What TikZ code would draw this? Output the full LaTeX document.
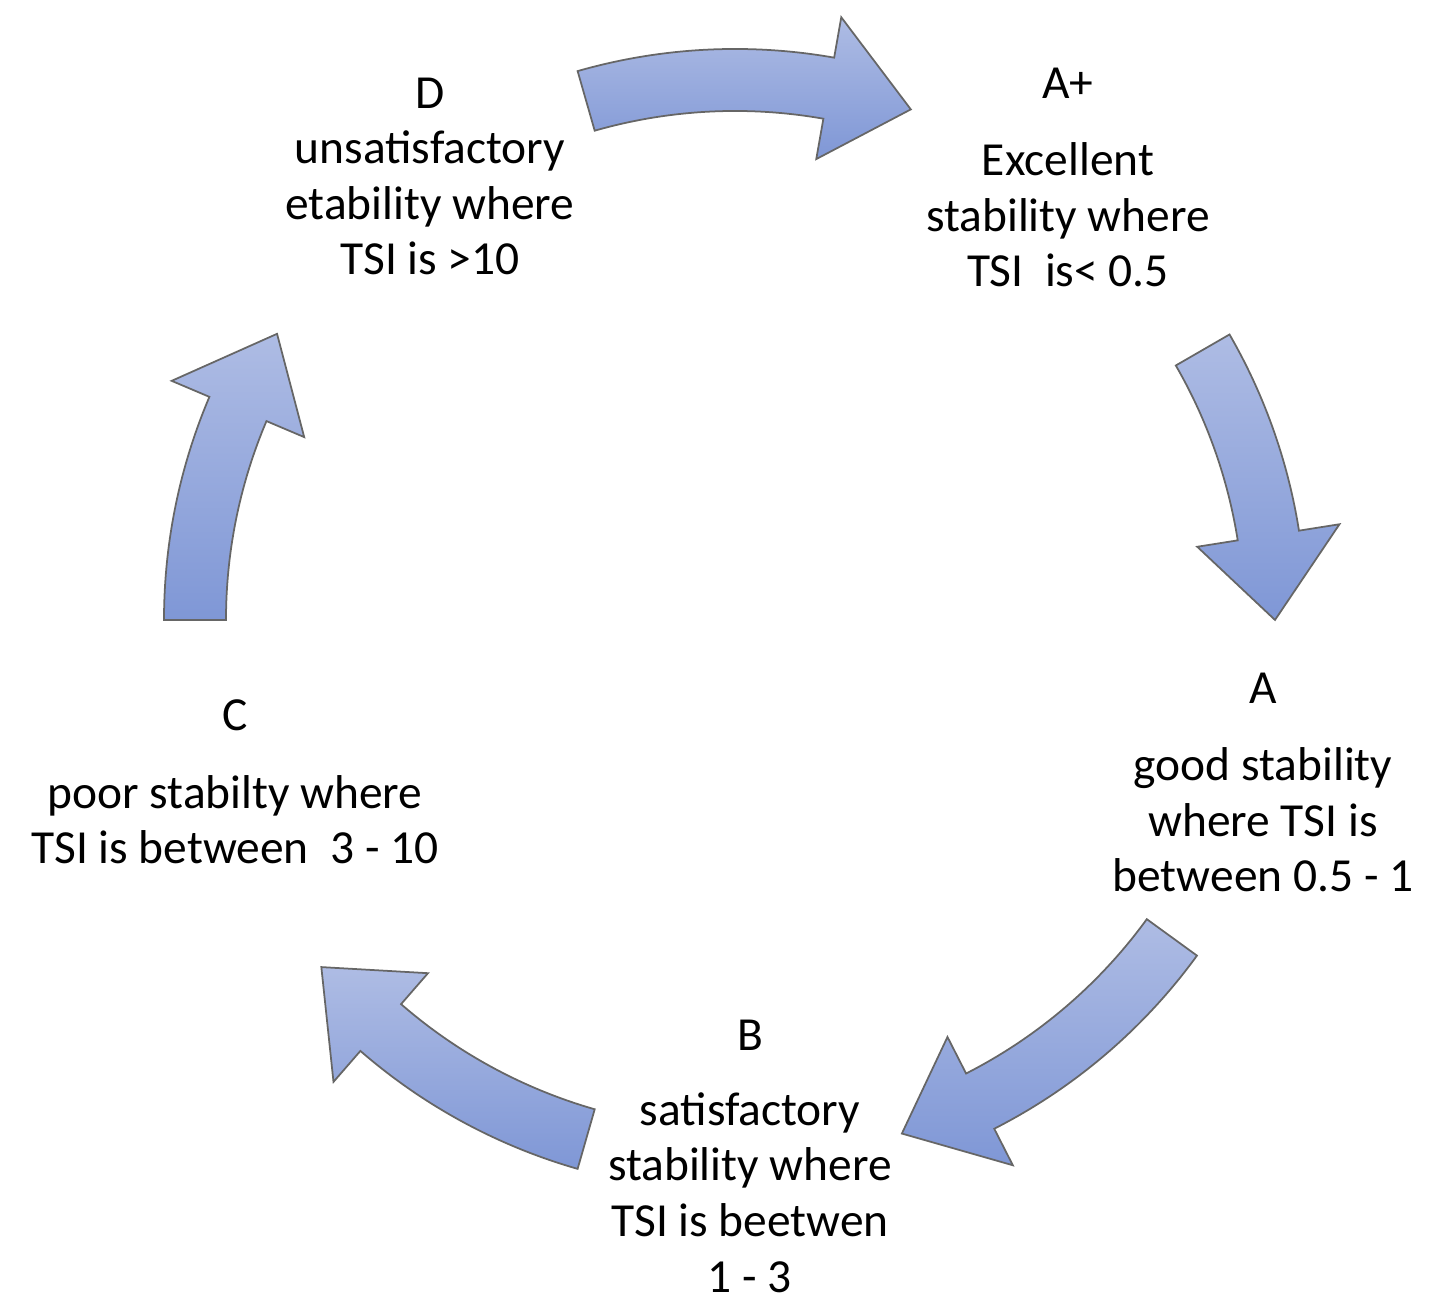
\documentclass[tikz,border=0pt]{standalone}
\usepackage{fontspec}
\setmainfont{Carlito}
\begin{document}
\begin{tikzpicture}
\useasboundingbox (0,0) rectangle (14.43,13.14);
\definecolor{ctop}{HTML}{AEBCE4}
\definecolor{cbot}{HTML}{7F97D6}
\tikzset{
  lbl/.style={font=\fontsize{13.5}{15.8}\selectfont, align=center, inner sep=0pt},
  blk/.style={top color=ctop, bottom color=cbot, draw=gray!80!black, line width=0.5pt, line join=miter}
}
\def\R{5.4}\def\w{0.31}\def\hw{0.72}
% curved block arrow: #1 start angle, #2 end (tip) angle, #3 head base angle
\newcommand\cyarrow[3]{%
  \path[blk] (#1:\R+\w) arc[start angle=#1, end angle=#3, radius=\R+\w]
    -- (#3:\R+\hw) -- (#2:\R) -- (#3:\R-\hw) -- (#3:\R-\w)
    arc[start angle=#3, end angle=#1, radius=\R-\w] -- cycle;}
\begin{scope}[shift={(7.35,6.94)}]
  \cyarrow{106}{71}{80}
  \cyarrow{30}{0}{9}
  \cyarrow{-36}{-72}{-63}
  \cyarrow{-106}{-140}{-131}
  \cyarrow{180}{148}{157}
\end{scope}
\node[lbl] (d) at (4.30,11.375) {D\\unsatisfactory\\etability where\\TSI is >10};
\node[lbl] (apt) at (10.68,12.31) {A+};
\node[lbl] (ap) at (10.68,10.99) {Excellent\\stability where\\TSI\ \ is< 0.5};
\node[lbl] (at) at (12.63,6.26) {A};
\node[lbl] (a) at (12.63,4.94) {good stability\\where TSI is\\between 0.5 - 1};
\node[lbl] (bt) at (7.50,2.79) {B};
\node[lbl] (b) at (7.50,1.215) {satisfactory\\stability where\\TSI is beetwen\\1 - 3};
\node[lbl] (ct) at (2.35,5.99) {C};
\node[lbl] (c) at (2.35,4.945) {poor stabilty where\\TSI is between\ \ 3 - 10};
\end{tikzpicture}
\end{document}
